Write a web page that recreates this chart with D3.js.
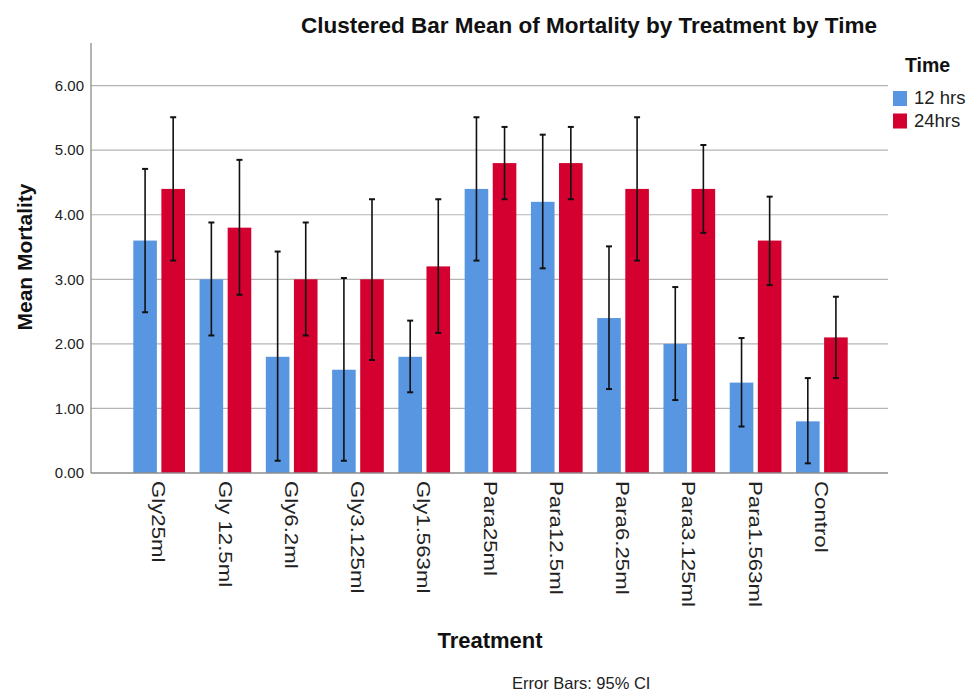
<!DOCTYPE html>
<html>
<head>
<meta charset="utf-8">
<script src="https://cdn.jsdelivr.net/npm/d3@7"></script>
<style>
  html, body { margin: 0; padding: 0; background: #fff; }
  text { font-family: Arial, "Liberation Sans", sans-serif; }
</style>
</head>
<body>
<svg id="chart" width="966" height="693"></svg>
<script>
const categories = ["Gly25ml", "Gly 12.5ml", "Gly6.2ml", "Gly3.125ml", "Gly1.563ml",
  "Para25ml", "Para12.5ml", "Para6.25ml", "Para3.125ml", "Para1.563ml", "Control"];
const seriesNames = ["12 hrs", "24hrs"];
const mean12 = [3.6, 3.0, 1.8, 1.6, 1.8, 4.4, 4.2, 2.4, 2.0, 1.4, 0.8];
const low12  = [2.49, 2.13, 0.19, 0.19, 1.25, 3.29, 3.17, 1.30, 1.13, 0.72, 0.15];
const high12 = [4.71, 3.88, 3.43, 3.02, 2.36, 5.51, 5.24, 3.51, 2.88, 2.09, 1.47];
const mean24 = [4.4, 3.8, 3.0, 3.0, 3.2, 4.8, 4.8, 4.4, 4.4, 3.6, 2.1];
const low24  = [3.29, 2.76, 2.13, 1.75, 2.17, 4.24, 4.24, 3.29, 3.72, 2.91, 1.47];
const high24 = [5.51, 4.85, 3.88, 4.24, 4.24, 5.36, 5.36, 5.51, 5.08, 4.28, 2.73];
const yTicks = [0, 1, 2, 3, 4, 5, 6];
const colors = ["#5896E1", "#D30030"];

const svg = d3.select("#chart");
const plot = { left: 91, right: 888, top: 43, bottom: 473 };

const y = d3.scaleLinear().domain([0, 6.66]).range([plot.bottom, plot.top]);
const x0 = d3.scaleBand().domain(categories).range([126, 855])
  .paddingInner(0.22).paddingOuter(0.11);
const x1 = d3.scaleBand().domain(seriesNames).range([0, x0.bandwidth()])
  .paddingInner(0.16).paddingOuter(0);
const color = d3.scaleOrdinal().domain(seriesNames).range(colors);

// gridlines
svg.append("g").selectAll("line").data(yTicks.filter(d => d > 0)).join("line")
  .attr("x1", plot.left).attr("x2", plot.right)
  .attr("y1", d => y(d)).attr("y2", d => y(d))
  .attr("stroke", "#b4b4b4").attr("stroke-width", 1.2);

// y axis
const yAxis = svg.append("g").attr("transform", `translate(${plot.left},0)`)
  .call(d3.axisLeft(y).tickValues(yTicks).tickFormat(d3.format(".2f")).tickSize(0).tickPadding(7));
yAxis.select(".domain").remove();
yAxis.selectAll("text").attr("font-size", 15).attr("fill", "#222")
  .attr("font-family", "Arial, 'Liberation Sans', sans-serif");
svg.append("line").attr("x1", plot.left).attr("x2", plot.left)
  .attr("y1", plot.top).attr("y2", plot.bottom)
  .attr("stroke", "#8c8c8c").attr("stroke-width", 1.3);

// data rows
const rows = categories.map((c, i) => ({
  cat: c,
  vals: [
    { s: seriesNames[0], m: mean12[i], lo: low12[i], hi: high12[i] },
    { s: seriesNames[1], m: mean24[i], lo: low24[i], hi: high24[i] }
  ]
}));

const groups = svg.append("g").selectAll("g").data(rows).join("g")
  .attr("transform", d => `translate(${x0(d.cat)},0)`);

groups.selectAll("rect").data(d => d.vals).join("rect")
  .attr("x", d => x1(d.s)).attr("width", x1.bandwidth())
  .attr("y", d => y(d.m)).attr("height", d => y(0) - y(d.m))
  .attr("fill", d => color(d.s));

// error bars
const eb = groups.selectAll("g.eb").data(d => d.vals).join("g").attr("class", "eb");
const cap = 3;
eb.append("line")
  .attr("x1", d => x1(d.s) + x1.bandwidth() / 2).attr("x2", d => x1(d.s) + x1.bandwidth() / 2)
  .attr("y1", d => y(d.lo)).attr("y2", d => y(d.hi))
  .attr("stroke", "#111").attr("stroke-width", 1.6);
eb.append("line")
  .attr("x1", d => x1(d.s) + x1.bandwidth() / 2 - cap).attr("x2", d => x1(d.s) + x1.bandwidth() / 2 + cap)
  .attr("y1", d => y(d.hi)).attr("y2", d => y(d.hi))
  .attr("stroke", "#111").attr("stroke-width", 2);
eb.append("line")
  .attr("x1", d => x1(d.s) + x1.bandwidth() / 2 - cap).attr("x2", d => x1(d.s) + x1.bandwidth() / 2 + cap)
  .attr("y1", d => y(d.lo)).attr("y2", d => y(d.lo))
  .attr("stroke", "#111").attr("stroke-width", 2);

// x axis baseline
svg.append("line").attr("x1", plot.left).attr("x2", plot.right)
  .attr("y1", plot.bottom).attr("y2", plot.bottom)
  .attr("stroke", "#8c8c8c").attr("stroke-width", 1.3);

// x labels (rotated)
const xAxis = svg.append("g").attr("transform", `translate(0,${plot.bottom})`)
  .call(d3.axisBottom(x0).tickSize(0).tickPadding(0));
xAxis.select(".domain").remove();
xAxis.selectAll("text")
  .attr("font-size", 19).attr("fill", "#222")
  .attr("font-family", "Arial, 'Liberation Sans', sans-serif")
  .attr("text-anchor", "start")
  .attr("y", 0).attr("dy", "0.36em")
  .attr("transform", "translate(0,8) rotate(90) scale(1.17,1)");

// titles
svg.append("text").attr("x", 589).attr("y", 33).attr("text-anchor", "middle")
  .attr("font-size", 22.5).attr("font-weight", "bold").attr("fill", "#111")
  .text("Clustered Bar Mean of Mortality by Treatment by Time");
svg.append("text").attr("x", 490).attr("y", 648).attr("text-anchor", "middle")
  .attr("font-size", 22).attr("font-weight", "bold").attr("fill", "#111")
  .text("Treatment");
svg.append("text").attr("transform", "translate(24,257) rotate(-90)")
  .attr("text-anchor", "middle").attr("dominant-baseline", "central")
  .attr("font-size", 21).attr("font-weight", "bold").attr("fill", "#111")
  .text("Mean Mortality");
svg.append("text").attr("x", 512).attr("y", 689)
  .attr("font-size", 16.5).attr("fill", "#222")
  .text("Error Bars: 95% CI");

// legend
const lg = svg.append("g");
lg.append("text").attr("x", 905).attr("y", 72).attr("font-size", 19.5)
  .attr("font-weight", "bold").attr("fill", "#111").text("Time");
const li = lg.selectAll("g.li").data(seriesNames).join("g").attr("class", "li")
  .attr("transform", (d, i) => `translate(893,${91 + i * 22.5})`);
li.append("rect").attr("width", 14).attr("height", 15).attr("fill", d => color(d));
li.append("text").attr("x", 21).attr("y", 13).attr("font-size", 18.5)
  .attr("fill", "#222").text(d => d);
</script>
</body>
</html>
